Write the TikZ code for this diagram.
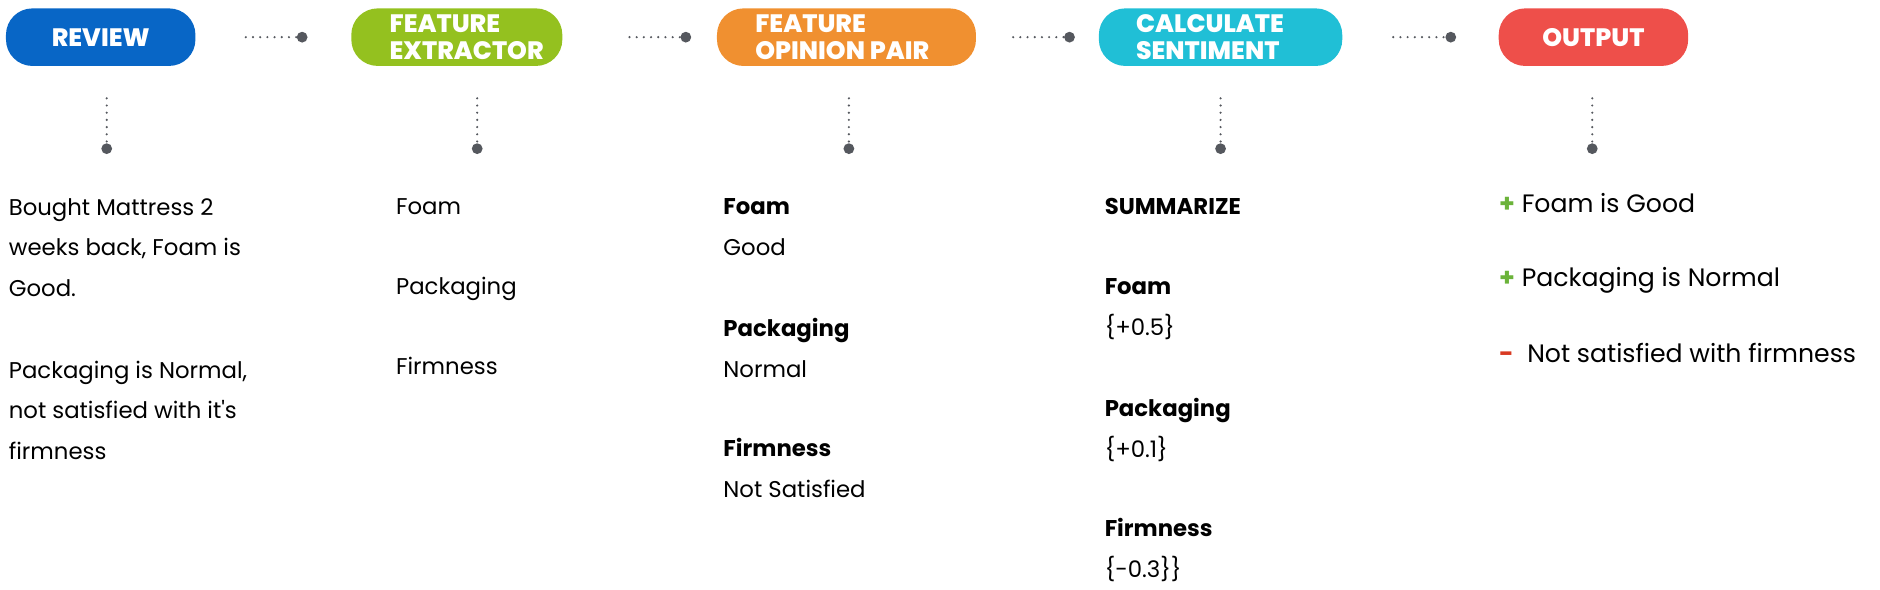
\documentclass[tikz,border=0pt]{standalone}
\usepackage{fontspec}
\setmainfont{Poppins}
\newfontfamily\pillfont{Poppins ExtraBold}
\usepackage{xcolor}
\definecolor{revblue}{HTML}{0866C6}
\definecolor{featgreen}{HTML}{94C11F}
\definecolor{pairorange}{HTML}{F09030}
\definecolor{sentcyan}{HTML}{20BFD6}
\definecolor{outred}{HTML}{EE4F4A}
\definecolor{dotgrey}{HTML}{55585E}
\definecolor{plusgreen}{HTML}{6BB33A}
\definecolor{minusred}{HTML}{D83A22}
\usepackage{tikz}
\usetikzlibrary{positioning, calc}

\begin{document}
\begin{tikzpicture}[x=0.5pt, y=-0.5pt,
        pill/.style={rounded corners=11pt, minimum height=24pt, inner sep=0pt},
        pilltxt/.style={text=white, font=\pillfont\fontsize{10.5}{11}\selectfont, align=left, inner sep=0pt},
        dot/.style={circle, fill=dotgrey, inner sep=0pt, minimum size=4.5pt},
        dotline/.style={dotgrey, line width=1pt, line cap=round, dash pattern=on 0pt off 3pt},
        body/.style={font=\fontsize{9.5}{17}\selectfont, anchor=base west, inner sep=0pt, align=left},
        block/.style={body, anchor=north west},
        outtxt/.style={font=\fontsize{10.5}{17}\selectfont, anchor=base west, inner sep=0pt}]
        \useasboundingbox (0,0) rectangle (1568,492);

        % Steps (pills)
        \node[pill, fill=revblue, minimum width=79pt] (review) at (84,31) {};
        \node[pilltxt] (reviewlbl) at (review.center) {REVIEW};
        \node[pill, fill=featgreen, minimum width=88pt] (extractor) at (381,31) {};
        \node[pilltxt, right=16pt of extractor.west] (extractorlbl) {FEATURE\\EXTRACTOR};
        \node[pill, fill=pairorange, minimum width=108pt] (pair) at (706,31) {};
        \node[pilltxt, right=16pt of pair.west] (pairlbl) {FEATURE\\OPINION PAIR};
        \node[pill, fill=sentcyan, minimum width=101.5pt] (sentiment) at (1018,31) {};
        \node[pilltxt, right=15.5pt of sentiment.west] (sentimentlbl) {CALCULATE\\SENTIMENT};
        \node[pill, fill=outred, minimum width=79pt] (output) at (1329,31) {};
        \node[pilltxt] (outputlbl) at (output.center) {OUTPUT};

        % Dotted links between steps
        \coordinate (h1) at (205,31); \node[dot] (hd1) at (252,31) {}; \draw[dotline] (h1) -- (hd1);
        \coordinate (h2) at (525,31); \node[dot] (hd2) at (572,31) {}; \draw[dotline] (h2) -- (hd2);
        \coordinate (h3) at (845,31); \node[dot] (hd3) at (892,31) {}; \draw[dotline] (h3) -- (hd3);
        \coordinate (h4) at (1162,31); \node[dot] (hd4) at (1210,31) {}; \draw[dotline] (h4) -- (hd4);

        % Dotted drops under each step
        \coordinate (v1) at (89,82); \node[dot] (vd1) at (89,124) {}; \draw[dotline] (v1) -- (vd1);
        \coordinate (v2) at (398,82); \node[dot] (vd2) at (398,124) {}; \draw[dotline] (v2) -- (vd2);
        \coordinate (v3) at (708,82); \node[dot] (vd3) at (708,124) {}; \draw[dotline] (v3) -- (vd3);
        \coordinate (v4) at (1018,82); \node[dot] (vd4) at (1018,124) {}; \draw[dotline] (v4) -- (vd4);
        \coordinate (v5) at (1328,82); \node[dot] (vd5) at (1328,124) {}; \draw[dotline] (v5) -- (vd5);

        % Review column
        \node[block] (reviewtxt) at (7,165) {Bought Mattress 2\\weeks back, Foam is\\Good.\\[17pt]Packaging is Normal,\\not satisfied with it\textquotesingle s\\firmness};

        % Feature column
        \node[body] (featfoam) at (330,179) {Foam};
        \node[body] (featpack) at (330,246) {Packaging};
        \node[body] (featfirm) at (330,312) {Firmness};

        % Opinion column
        \node[block] (pairfoam) at (603,165) {\textbf{Foam}\\Good};
        \node[block] (pairpack) at (603,265) {\textbf{Packaging}\\Normal};
        \node[block] (pairfirm) at (603,365) {\textbf{Firmness}\\Not Satisfied};

        % Sentiment column
        \node[body] (summary) at (921,179) {\textbf{SUMMARIZE}};
        \node[block] (sentfoam) at (921,232) {\textbf{Foam}\\\{+0.5\}};
        \node[block] (sentpack) at (921,332) {\textbf{Packaging}\\\{+0.1\}};
        \node[block] (sentfirm) at (921,432) {\textbf{Firmness}\\\{-0.3\}\}};

        % Output column
        \node[outtxt] (outfoam) at (1250,177) {\textcolor{plusgreen}{\textbf{+}} Foam is Good};
        \node[outtxt] (outpack) at (1250,239) {\textcolor{plusgreen}{\textbf{+}} Packaging is Normal};
        \node[outtxt] (outfirm) at (1250,302) {\textcolor{minusred}{\textbf{-}}\ \ Not satisfied with firmness};
\end{tikzpicture}
\end{document}
